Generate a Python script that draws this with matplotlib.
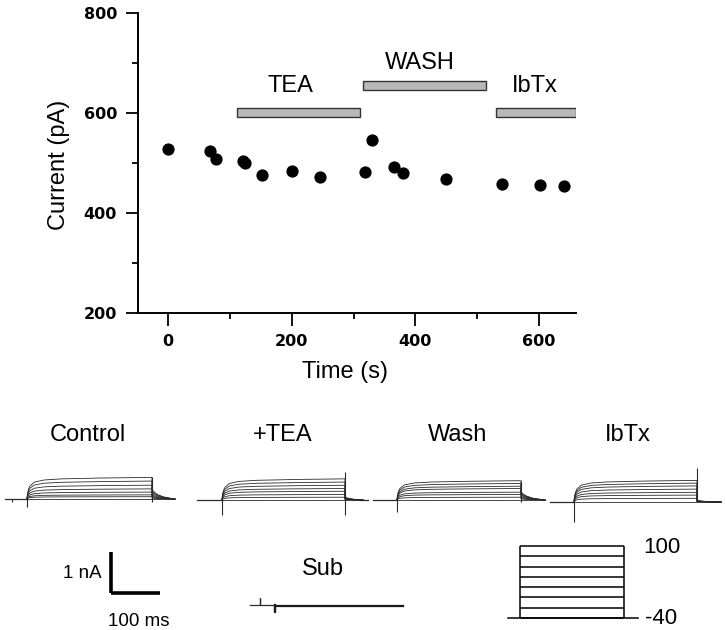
import numpy as np
import matplotlib
matplotlib.use("Agg")
import matplotlib.pyplot as plt

plt.rcParams['font.family'] = ['Liberation Sans', 'DejaVu Sans']

# time course data (s, pA)
times = [0, 67, 77, 121, 124, 152, 201, 245, 318, 329, 366, 380, 449, 541, 601, 640]
currents = [528, 524, 508, 505, 500, 476, 484, 472, 482, 547, 492, 480, 468, 458, 456, 454]

# application bars: label, start, end, level
bar_labels = ['TEA', 'WASH', 'IbTx']
bar_start = [112, 315, 530]
bar_end = [311, 515, 660]
bar_level = [601, 656, 601]
bar_text_x = [198, 408, 594]
bar_text_y = [642, 688, 642]

# current traces (ms, nA)
panel_names = ['Control', '+TEA', 'Wash', 'IbTx']
ctrl_levels = [0.47, 0.39, 0.30, 0.22, 0.15, 0.09, 0.05, 0.0]
tea_levels = [0.46, 0.39, 0.32, 0.25, 0.19, 0.12, 0.06, 0.0]
wash_levels = [0.42, 0.36, 0.30, 0.25, 0.17, 0.12, 0.06, 0.0]
ibtx_levels = [0.47, 0.41, 0.35, 0.28, 0.21, 0.15, 0.08, 0.0]
step_ms = [255, 251, 253, 251]
trace_end = [302, 288, 302, 300]
tail_ratio = [0.45, 0.15, 0.43, 0.08]
onset_lo = [-0.17, -0.33, -0.26, -0.43]
onset_hi = [0.0, 0.0, 0.0, 0.10]
offset_lo = [-0.07, -0.33, -0.04, 0.0]
offset_hi = [0.47, 0.61, 0.42, 0.74]
baseline_pieces = [[(-45, 0)], [(-51, 0)], [(-75, -59), (-49, 0)], [(-49, 0)]]

# activation shape (fraction of plateau) and tail shape
act_t = [0, 1, 3, 6, 15, 35, 70, 150]
act_frac = [0, 0.25, 0.45, 0.6, 0.78, 0.88, 0.93, 0.97]
tail_pos = [0, 0.1, 0.25, 0.5, 0.8, 1.0]
tail_frac = [1.0, 0.7, 0.45, 0.22, 0.08, 0.0]

# subtracted trace
sub_t = [-51, -31, -31, -31, 0, 0, 0, 261]
sub_i = [0, 0, 0.15, 0, 0, -0.15, -0.02, -0.02]

# voltage protocol (mV)
volt_steps = [-40, -20, 0, 20, 40, 60, 80, 100]

W, H = 726, 630
fig = plt.figure(figsize=(W / 100, H / 100), dpi=100)


def px_box(left, top, right, bottom):
    return [left / W, 1 - bottom / H, (right - left) / W, (bottom - top) / H]


# ---- top panel
ax = fig.add_axes(px_box(138, 13, 576, 313))
ax.plot(times, currents, 'o', color='black', markersize=7.8)
ax.barh(bar_level, [e - s for s, e in zip(bar_start, bar_end)], left=bar_start,
        height=18, color='#b8b8b8', edgecolor='#333333', linewidth=1.0)
for lab, tx, ty in zip(bar_labels, bar_text_x, bar_text_y):
    ax.text(tx, ty, lab, ha='center', va='baseline', fontsize=17)
ax.set_xlim(-49, 660)
ax.set_ylim(200, 800)
ax.set_xticks([0, 200, 400, 600])
ax.set_xticks([100, 300, 500], minor=True)
ax.set_yticks([200, 400, 600, 800])
ax.set_yticks([300, 500, 700], minor=True)
for s in ['top', 'right']:
    ax.spines[s].set_visible(False)
for s in ['left', 'bottom']:
    ax.spines[s].set_linewidth(1.4)
ax.tick_params(which='major', length=9, width=1.3, pad=6)
ax.tick_params(which='minor', length=4.5, width=1.3)
for lab in ax.get_xticklabels() + ax.get_yticklabels():
    lab.set_fontfamily('DejaVu Sans')
    lab.set_fontweight('bold')
    lab.set_fontsize(11.5)
ax.set_xlabel('Time (s)', fontsize=17)
ax.set_ylabel('Current (pA)', fontsize=17)
ax.xaxis.set_label_coords(0.473, -0.16)
ax.yaxis.set_label_coords(-0.155, 0.493)

# ---- current traces
PX_MS = 0.49
PX_NA = 46.0


def trace_axes(x0, y0, t0=-80, t1=320, i0=-0.6, i1=0.9):
    a = fig.add_axes(px_box(x0 + t0 * PX_MS, y0 - i1 * PX_NA,
                            x0 + t1 * PX_MS, y0 - i0 * PX_NA))
    a.set_xlim(t0, t1)
    a.set_ylim(i0, i1)
    a.axis('off')
    return a


onset_x = [27, 222, 397, 574]
base_y = [499, 500, 500, 502]
title_x = [88, 283, 458, 628]
all_levels = [ctrl_levels, tea_levels, wash_levels, ibtx_levels]

for k in range(4):
    a = trace_axes(onset_x[k], base_y[k])
    st = step_ms[k]
    tend = trace_end[k]
    for lev in all_levels[k]:
        xs = list(act_t) + [st]
        ys = [lev * f for f in act_frac] + [lev]
        xs += [st + p * (tend - st) for p in tail_pos]
        ys += [lev * tail_ratio[k] * f for f in tail_frac]
        a.plot(xs, ys, color='#2a2a2a', lw=0.6)
    for t0, t1 in baseline_pieces[k]:
        a.plot([t0, t1], [0, 0], color='#2a2a2a', lw=0.9)
    a.vlines(0, onset_lo[k], max(onset_hi[k], 0.02), color='#2a2a2a', lw=0.8)
    a.vlines(st, offset_lo[k], offset_hi[k], color='#2a2a2a', lw=0.8)
    if k == 0:
        a.vlines(-31, -0.07, 0, color='#2a2a2a', lw=0.8)
    fig.text(title_x[k] / W, 1 - 441 / H, panel_names[k], ha='center',
             va='baseline', fontsize=17)

# subtracted trace
a = trace_axes(275, 605)
a.plot(sub_t[:5], sub_i[:5], color='#2a2a2a', lw=0.9)
a.plot(sub_t[4:], sub_i[4:], color='#1a1a1a', lw=1.6)
fig.text(323 / W, 1 - 575 / H, 'Sub', ha='center', va='baseline', fontsize=17)

# scale bar
a = trace_axes(111, 593)
a.plot([0, 0], [0, 1], color='black', lw=2.6, solid_capstyle='butt')
a.plot([0, 100], [0, 0], color='black', lw=2.6, solid_capstyle='butt')
fig.text(102 / W, 1 - 578 / H, '1 nA', ha='right', va='baseline', fontsize=13.5)
fig.text(139 / W, 1 - 626 / H, '100 ms', ha='center', va='baseline', fontsize=13.5)

# voltage protocol
pa = fig.add_axes(px_box(508, 546, 638, 618))
pa.set_xlim(-30, 285)
pa.set_ylim(-40, 100)
pa.axis('off')
pa.plot([-30, 285], [-40, -40], color='black', lw=1.1, clip_on=False)
pa.vlines([0, 250], -40, max(volt_steps), color='black', lw=1.1, clip_on=False)
pa.hlines(volt_steps, 0, 250, color='black', lw=1.1, clip_on=False)
fig.text(643 / W, 1 - 553 / H, '100', ha='left', va='baseline', fontsize=16)
fig.text(645 / W, 1 - 624 / H, '-40', ha='left', va='baseline', fontsize=16)

fig.savefig('out.png', dpi=100)
